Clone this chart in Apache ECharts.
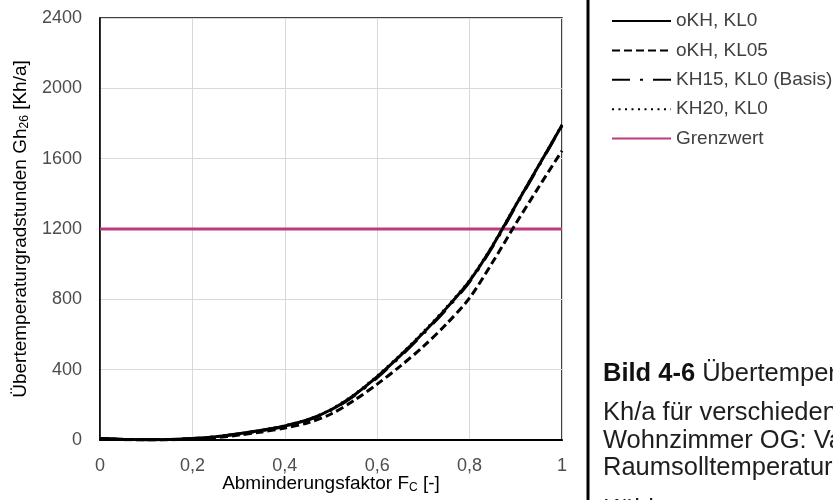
<!DOCTYPE html>
<html>
<head>
<meta charset="utf-8">
<script src="https://cdn.jsdelivr.net/npm/echarts@6/dist/echarts.min.js"></script>
<style>
html,body{margin:0;padding:0;background:#fff;}
#main{width:833px;height:500px;}
</style>
</head>
<body>
<div id="main"></div>
<script>
// Abminderungsfaktor Fc (x values)
const fcValues = [0,0.05,0.1,0.15,0.2,0.25,0.3,0.35,0.4,0.45,0.5,0.55,0.6,0.65,0.7,0.75,0.8,0.85,0.9,0.95,1.0];
// Übertemperaturgradstunden Gh26 [Kh/a]
const oKH_KL0   = [8,4,2,3,8,18,35,55,80,115,172,255,360,480,610,750,905,1105,1335,1562,1790];
const oKH_KL05  = [6,2,0,1,5,13,28,46,68,98,148,225,318,420,532,660,808,1012,1230,1440,1645];
const KH15_KL0  = [8,4,2,3,8,18,34,54,78,113,169,251,355,475,605,745,900,1100,1331,1559,1788];
const KH20_KL0  = [8,4,2,3,8,18,36,56,82,117,175,259,365,485,616,756,910,1110,1340,1566,1794];
const grenzX = [0,1];
const grenzwert = [1200,1200];
const xTicks = [0,0.2,0.4,0.6,0.8,1];
const yTicks = [0,400,800,1200,1600,2000,2400];

const legendNames = ['oKH, KL0','oKH, KL05','KH15, KL0 (Basis)','KH20, KL0','Grenzwert'];
const captionLines = [
  '{b|Bild 4-6} Übertemperaturgradstunden Gh26 in',
  'Kh/a für verschiedene Varianten im',
  'Wohnzimmer OG: Variation der',
  'Raumsolltemperatur und der',
  'Kühlung'
];

function pairs(xs, ys){ return xs.map((x,i)=>[x, ys[i]]); }

const chart = echarts.init(document.getElementById('main'), null, {renderer:'canvas'});
const FONT = 'Liberation Sans';
const option = {
  animation:false,
  backgroundColor:'#fff',
  textStyle:{fontFamily:FONT},
  grid:{left:100, right:271, top:18, bottom:60, show:true, borderColor:'#000', borderWidth:1.5,
    containLabel:false, outerBoundsMode:'none'},
  legend:{
    data:legendNames,
    orient:'vertical',
    left:611, top:11,
    itemWidth:59, itemHeight:14, itemGap:9.4,
    padding:0,
    itemStyle:{opacity:0},
    textStyle:{fontSize:19, color:'#404040', fontFamily:FONT, lineHeight:20},
    selectedMode:false
  },
  xAxis:{
    type:'value', min:xTicks[0], max:xTicks[xTicks.length-1], interval:0.2,
    axisLine:{show:true, onZero:false, lineStyle:{color:'#000', width:2}},
    axisTick:{show:false},
    splitLine:{show:true, lineStyle:{color:'#d9d9d9', width:1}},
    axisLabel:{fontSize:18, color:'#4d4d4d', margin:17, fontFamily:FONT,
      formatter:v=>String(Math.round(v*10)/10).replace('.',',')},
    name:'Abminderungsfaktor F{s|C} [-]',
    nameLocation:'middle', nameGap:34, nameMoveOverlap:false,
    nameTextStyle:{fontSize:19, color:'#000', fontFamily:FONT,
      rich:{s:{fontSize:12, verticalAlign:'bottom', color:'#000', padding:[8,0,0,0]}}}
  },
  yAxis:{
    type:'value', min:yTicks[0], max:yTicks[yTicks.length-1], interval:400,
    axisLine:{show:true, lineStyle:{color:'#000', width:1.5}},
    axisTick:{show:false},
    splitLine:{show:true, lineStyle:{color:'#d9d9d9', width:1}},
    axisLabel:{fontSize:18, color:'#4d4d4d', margin:18, fontFamily:FONT, formatter:v=>String(v)},
    name:'Übertemperaturgradstunden Gh{s|26} [Kh/a]',
    nameLocation:'middle', nameGap:69, nameRotate:90, nameMoveOverlap:false,
    nameTextStyle:{fontSize:19, color:'#000', fontFamily:FONT,
      rich:{s:{fontSize:12, verticalAlign:'bottom', color:'#000', padding:[8,0,0,0]}}}
  },
  graphic:[
    {type:'line', shape:{x1:588, y1:0, x2:588, y2:500}, style:{stroke:'#000', lineWidth:3}, silent:true},
    {type:'text', left:603, top:361, style:{text:captionLines[0], fontSize:25.5, fill:'#1e1e1e', fontFamily:FONT,
      rich:{b:{fontWeight:'bold', fontSize:25.5, fill:'#111', fontFamily:FONT}}}},
    {type:'text', left:603, top:400, style:{text:captionLines[1], fontSize:25.5, fill:'#1e1e1e', fontFamily:FONT}},
    {type:'text', left:603, top:428, style:{text:captionLines[2], fontSize:25.5, fill:'#1e1e1e', fontFamily:FONT}},
    {type:'text', left:603, top:455, style:{text:captionLines[3], fontSize:25.5, fill:'#1e1e1e', fontFamily:FONT}},
    {type:'text', left:603, top:497, style:{text:captionLines[4], fontSize:25.5, fill:'#1e1e1e', fontFamily:FONT}}
  ],
  series:[
    {name:legendNames[4], type:'line', data:pairs(grenzX, grenzwert), symbol:'none', z:1,
      lineStyle:{color:'#BE3A7D', width:3}, itemStyle:{color:'#BE3A7D'}},
    {name:legendNames[0], type:'line', data:pairs(fcValues, oKH_KL0), symbol:'none', smooth:0.3, z:5,
      lineStyle:{color:'#000', width:3, type:'solid'}, itemStyle:{color:'#000'}},
    {name:legendNames[1], type:'line', data:pairs(fcValues, oKH_KL05), symbol:'none', smooth:0.3, z:4,
      lineStyle:{color:'#000', width:3, type:[8,4]}, itemStyle:{color:'#000'}},
    {name:legendNames[2], type:'line', data:pairs(fcValues, KH15_KL0), symbol:'none', smooth:0.3, z:3,
      lineStyle:{color:'#000', width:3, type:[18,10,3,10]}, itemStyle:{color:'#000'}},
    {name:legendNames[3], type:'line', data:pairs(fcValues, KH20_KL0), symbol:'none', smooth:0.3, z:6,
      lineStyle:{color:'#000', width:2.5, type:[2,4.5]}, itemStyle:{color:'#000'}}
  ]
};
chart.setOption(option);
</script>
</body>
</html>
